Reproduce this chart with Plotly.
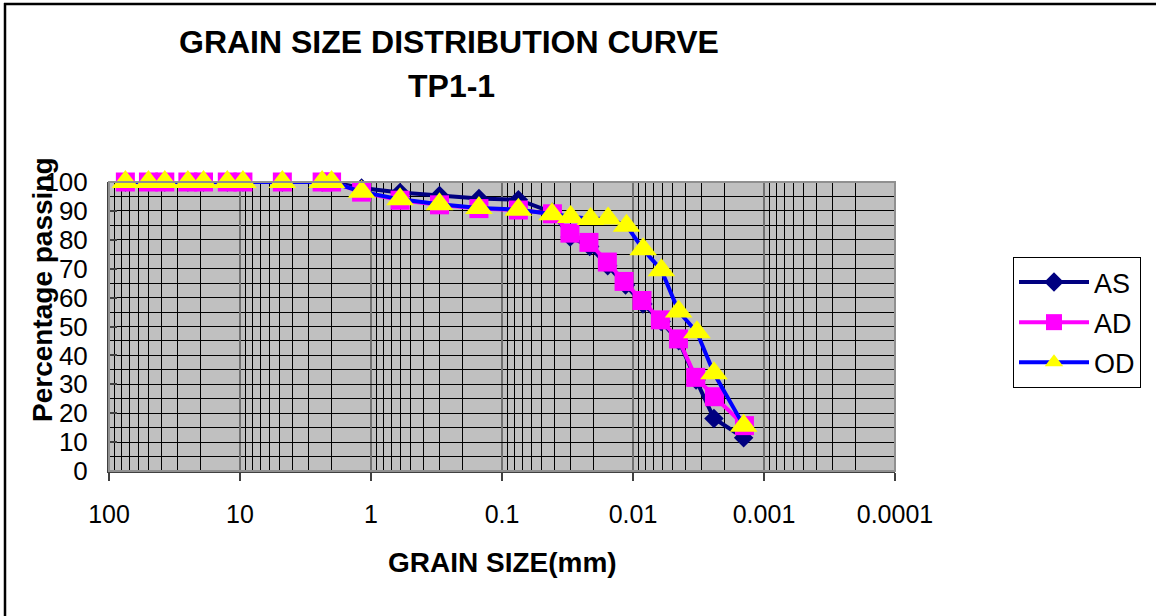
import plotly.graph_objects as go

# ---------------- data ----------------
sieve_mm = [75, 50, 37.5, 25, 19, 12.5, 9.5, 4.75, 2.36, 2.0, 1.18, 0.6, 0.3, 0.15, 0.075]

as_sieve_pct = [100, 100, 100, 100, 100, 100, 100, 100, 100, 100, 97.9, 96.4, 95.3, 94.3, 93.9]
ad_sieve_pct = [100, 100, 100, 100, 100, 100, 100, 100, 100, 100, 96.5, 93.7, 92.1, 90.8, 90.3]
od_sieve_pct = [100, 100, 100, 100, 100, 100, 100, 100, 100, 100, 96.6, 94.0, 92.3, 91.0, 90.4]

as_hydro_mm = [0.0412, 0.0302, 0.0214, 0.0156, 0.0114, 0.0084, 0.0061, 0.00448, 0.0033, 0.00241, 0.00143]
as_hydro_pct = [89.5, 81.0, 77.7, 71.0, 64.4, 57.8, 51.7, 45.1, 31.5, 18.2, 11.5]

ad_hydro_mm = [0.0412, 0.0303, 0.0217, 0.0157, 0.0117, 0.00854, 0.00618, 0.0045, 0.00332, 0.00239, 0.00141]
ad_hydro_pct = [89.0, 82.3, 79.1, 72.3, 65.6, 59.0, 52.3, 45.7, 32.4, 25.7, 15.7]

od_hydro_mm = [0.0415, 0.0299, 0.0211, 0.0155, 0.0112, 0.00837, 0.00607, 0.00448, 0.00325, 0.00241, 0.00143]
od_hydro_pct = [88.8, 87.9, 87.2, 87.4, 84.9, 76.7, 69.5, 55.2, 48.0, 33.8, 15.7]

series_names = ["AS", "AD", "OD"]
x_tickvals = [100, 10, 1, 0.1, 0.01, 0.001, 0.0001]
x_ticktext = ["100", "10", "1", "0.1", "0.01", "0.001", "0.0001"]
y_tickvals = [0, 10, 20, 30, 40, 50, 60, 70, 80, 90, 100]

title_line1 = "GRAIN SIZE DISTRIBUTION CURVE"
title_line2 = "TP1-1"
x_title = "GRAIN SIZE(mm)"
y_title = "Percentage passing"

# ---------------- figure ----------------
FONT = "Liberation Sans, Arial, sans-serif"
W, H = 1156, 616
L, R, T, B = 109, 261, 182, 145
PW, PH = W - L - R, H - T - B


def px(xp):
    return (xp - L) / PW


def py(yp):
    return (H - B - yp) / PH


fig = go.Figure()

styles = [
    dict(color="#000080", symbol="diamond", size=15, mcolor="#000080"),
    dict(color="#FF00FF", symbol="square", size=19, mcolor="#FF00FF"),
    dict(color="#0000FF", symbol="triangle-up", size=24, mcolor="#FFFF00"),
]
xs = [sieve_mm + as_hydro_mm, sieve_mm + ad_hydro_mm, sieve_mm + od_hydro_mm]
ys = [as_sieve_pct + as_hydro_pct, ad_sieve_pct + ad_hydro_pct, od_sieve_pct + od_hydro_pct]

for name, st, x, y in zip(series_names, styles, xs, ys):
    fig.add_trace(go.Scatter(
        x=x, y=y, name=name, mode="lines+markers",
        line=dict(color=st["color"], width=4),
        marker=dict(symbol=st["symbol"], size=st["size"], color=st["mcolor"], line=dict(width=0)),
        cliponaxis=False, legendgroup=name,
    ))

minor_vals = [m * 10 ** e for e in range(-4, 2) for m in range(2, 10)]

fig.update_xaxes(
    type="log", range=[2, -4], autorange=False,
    tickvals=x_tickvals, ticktext=x_ticktext,
    tickfont=dict(family=FONT, size=25, color="black"),
    ticks="outside", ticklen=8, tickcolor="#404040", tickwidth=2,
    showgrid=True, gridcolor="#707070", gridwidth=2,
    minor=dict(tickvals=minor_vals, showgrid=True, gridcolor="black", gridwidth=1, ticks=""),
    showline=True, linecolor="#404040", linewidth=2,
    zeroline=False, automargin=False, ticklabelstandoff=12,
)
fig.update_yaxes(
    range=[0, 100], autorange=False,
    tickvals=y_tickvals,
    tickfont=dict(family=FONT, size=26, color="black"),
    ticks="inside", ticklen=8, tickcolor="#404040", tickwidth=2,
    showgrid=True, gridcolor="black", gridwidth=1,
    minor=dict(dtick=5, showgrid=True, gridcolor="black", gridwidth=1, ticks=""),
    showline=True, linecolor="#404040", linewidth=2,
    zeroline=False, automargin=False, ticklabelstandoff=14,
)

annotations = [
    dict(text="<b>%s</b>" % title_line1, x=px(449), y=py(42), xref="paper", yref="paper",
         showarrow=False, xanchor="center", yanchor="middle", font=dict(family=FONT, size=32, color="black")),
    dict(text="<b>%s</b>" % title_line2, x=px(451), y=py(86), xref="paper", yref="paper",
         showarrow=False, xanchor="center", yanchor="middle", font=dict(family=FONT, size=32, color="black")),
    dict(text="<b>%s</b>" % x_title, x=px(502), y=py(562), xref="paper", yref="paper",
         showarrow=False, xanchor="center", yanchor="middle", font=dict(family=FONT, size=28, color="black")),
    dict(text="<b>%s</b>" % y_title, x=px(42), y=py(290), xref="paper", yref="paper", textangle=-90,
         showarrow=False, xanchor="center", yanchor="middle", font=dict(family=FONT, size=28, color="black")),
]

shapes = [
    # plot-area border
    dict(type="rect", xref="paper", yref="paper", x0=0, x1=1, y0=0, y1=1,
         line=dict(color="#909090", width=2), layer="above"),
    # outer chart border (top and left edges)
    dict(type="line", xref="paper", yref="paper", x0=px(4), x1=px(W + 2), y0=py(4), y1=py(4),
         line=dict(color="black", width=2.5)),
    dict(type="line", xref="paper", yref="paper", x0=px(5), x1=px(5), y0=py(3), y1=py(H + 2),
         line=dict(color="black", width=2.5)),
]

fig.update_layout(
    width=W, height=H,
    margin=dict(l=L, r=R, t=T, b=B, autoexpand=False),
    paper_bgcolor="white", plot_bgcolor="#C0C0C0",
    showlegend=True,
    legend=dict(
        x=px(1013), y=py(257), xanchor="left", yanchor="top",
        bgcolor="white", bordercolor="black", borderwidth=1,
        font=dict(family=FONT, size=27, color="black"),
        itemwidth=70, tracegroupgap=2, itemsizing="trace",
    ),
    annotations=annotations,
    shapes=shapes,
)

fig.write_html("out.html")
